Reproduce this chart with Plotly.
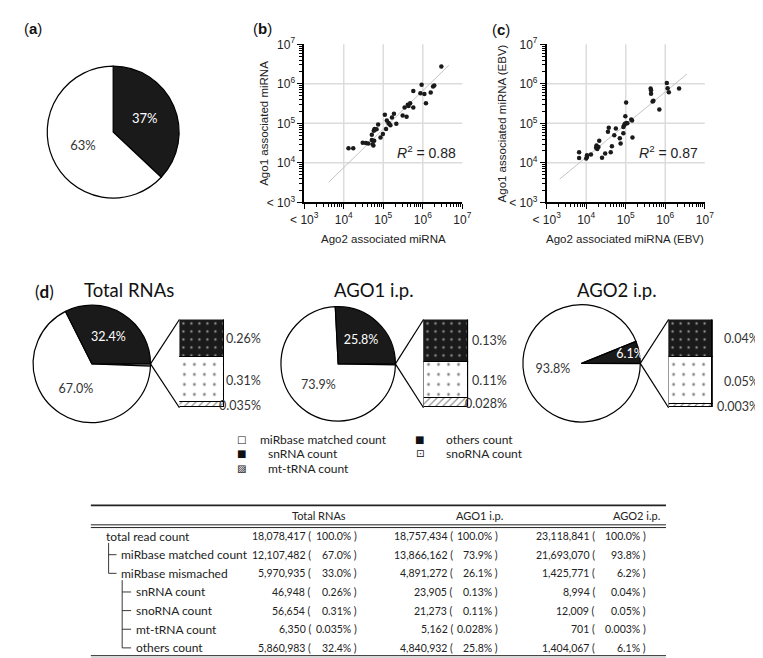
import plotly.graph_objects as go
import numpy as np

W, H = 763, 658


def fx(x):
    return x / W


def fy(y):
    return 1 - y / H


# ------------------------------------------------------------------ data
# (a) pie
pie_a_labels = ["share 1", "share 2"]
pie_a_values = [37, 63]

# (b) log10(read counts): Ago2 (x) vs Ago1 (y)
b_x = [4.12, 4.24, 4.48, 4.56, 4.62, 4.71, 4.71, 4.75, 4.73, 4.77, 4.76, 4.78, 4.78, 4.83,
       4.87, 4.93, 4.99, 5.07, 5.04, 5.09, 5.13, 5.15, 5.18, 5.22, 5.27, 5.33, 5.49, 5.59,
       5.54, 5.62, 5.64, 5.68, 5.76, 5.76, 5.94, 5.97, 6.04, 6.08, 6.20, 6.26, 6.29, 6.47]
b_y = [4.37, 4.37, 4.51, 4.50, 4.49, 4.58, 4.71, 4.44, 4.47, 4.56, 4.81, 4.84, 4.86, 4.85,
       4.97, 4.64, 4.73, 4.86, 5.22, 5.07, 5.01, 4.99, 4.95, 5.15, 5.24, 4.99, 5.20, 5.17,
       5.40, 5.47, 5.44, 5.51, 5.40, 5.82, 5.76, 5.98, 5.74, 5.51, 5.78, 5.93, 5.96, 6.44]
b_fit_x = [3.62, 6.66]
b_fit_y = [3.51, 6.47]
b_r2 = "0.88"

# (c) log10(read counts), EBV miRNA
c_x = [3.82, 3.82, 4.00, 4.02, 4.02, 4.12, 4.25, 4.26, 4.28, 4.31, 4.33, 4.40, 4.48, 4.55,
       4.57, 4.62, 4.65, 4.71, 4.75, 4.85, 4.87, 4.94, 4.94, 4.96, 4.98, 4.99, 5.01, 5.02,
       5.04, 5.14, 5.16, 5.17, 5.63, 5.64, 5.64, 5.68, 5.70, 5.85, 6.04, 6.06, 6.09, 6.35]
c_y = [4.27, 4.12, 4.11, 4.15, 4.19, 4.21, 4.38, 4.44, 4.35, 4.40, 4.56, 4.13, 4.24, 4.79,
       4.89, 4.27, 4.42, 4.70, 4.87, 4.62, 4.49, 4.75, 4.91, 4.95, 4.99, 5.18, 5.53, 5.01,
       5.00, 5.10, 5.07, 4.64, 5.88, 5.84, 5.75, 5.55, 5.57, 5.35, 6.02, 5.89, 5.79, 5.88]
c_fit_x = [3.33, 6.55]
c_fit_y = [3.59, 6.25]
c_r2 = "0.87"

axis_exponents = [3, 4, 5, 6, 7]
axis_ticktext = ["< 10<sup>3</sup>", "10<sup>4</sup>", "10<sup>5</sup>", "10<sup>6</sup>", "10<sup>7</sup>"]

# (d) + table
groups = ["Total RNAs", "AGO1 i.p.", "AGO2 i.p."]
row_labels = ["total read count", "miRbase matched count", "miRbase mismached",
              "snRNA count", "snoRNA count", "mt-tRNA count", "others count"]
row_levels = [0, 1, 1, 2, 2, 2, 2]
counts = [
    [18078417, 12107482, 5970935, 46948, 56654, 6350, 5860983],
    [18757434, 13866162, 4891272, 23905, 21273, 5162, 4840932],
    [23118841, 21693070, 1425771, 8994, 12009, 701, 1404067],
]
pcts = [
    ["100.0%", "67.0%", "33.0%", "0.26%", "0.31%", "0.035%", "32.4%"],
    ["100.0%", "73.9%", "26.1%", "0.13%", "0.11%", "0.028%", "25.8%"],
    ["100.0%", "93.8%", "6.2%", "0.04%", "0.05%", "0.003%", "6.1%"],
]
IDX_MATCHED, IDX_SN, IDX_SNO, IDX_MT, IDX_OTHERS = 1, 3, 4, 5, 6

FONT_A = "Liberation Sans"
FONT_D = "Lato"

fig = go.Figure()
shapes = []
ann = []

# ------------------------------------------------------------------ (a)
fig.add_trace(go.Pie(
    labels=pie_a_labels, values=pie_a_values, sort=False, direction="clockwise", rotation=0,
    marker=dict(colors=["#1a1a1a", "white"], line=dict(color="black", width=1.2)),
    texttemplate="%{percent:.0%}", textposition="inside", insidetextorientation="horizontal",
    textfont=dict(family=FONT_D, size=13, color=["white", "#333"]),
    domain=dict(x=[fx(26), fx(162)], y=[fy(186), fy(50)]), showlegend=False, hoverinfo="skip"))

# ------------------------------------------------------------------ (b), (c)
minor_vals = [float(np.log10(k * 10 ** n)) for n in range(3, 7) for k in range(2, 10)]


def axis_style(domain):
    return dict(domain=domain, range=[3, 7], tickmode="array", tickvals=axis_exponents,
                ticktext=axis_ticktext, ticks="outside", ticklen=5, tickwidth=1.2,
                tickcolor="black", showline=True, linecolor="black", linewidth=1.5,
                showgrid=False, zeroline=False, fixedrange=True,
                tickfont=dict(family=FONT_A, size=12, color="#222"),
                minor=dict(tickmode="array", tickvals=minor_vals, ticks="outside",
                           ticklen=3, tickwidth=1, tickcolor="black", showgrid=False))


panels = [("x", "y", b_x, b_y, b_fit_x, b_fit_y, b_r2),
          ("x2", "y2", c_x, c_y, c_fit_x, c_fit_y, c_r2)]
for xa, ya, xs, ys, fxs, fys, r2 in panels:
    fig.add_trace(go.Scatter(x=fxs, y=fys, mode="lines", xaxis=xa, yaxis=ya,
                             line=dict(color="#c4c4c4", width=1), showlegend=False,
                             hoverinfo="skip"))
    fig.add_trace(go.Scatter(x=xs, y=ys, mode="markers", xaxis=xa, yaxis=ya,
                             marker=dict(color="#1a1a1a", size=4.5), showlegend=False))
    for v in axis_exponents[1:-1]:
        shapes.append(dict(type="line", xref=xa, yref=ya + " domain", x0=v, x1=v, y0=0, y1=1,
                           line=dict(color="#dcdcdc", width=1.5), layer="below"))
        shapes.append(dict(type="line", xref=xa + " domain", yref=ya, x0=0, x1=1, y0=v, y1=v,
                           line=dict(color="#dcdcdc", width=1.5), layer="below"))
    ann.append(dict(text="<i>R</i><sup>2</sup> = " + r2, xref=xa + " domain", yref=ya + " domain",
                    x=0.97, y=0.32, xanchor="right", yanchor="middle", showarrow=False,
                    font=dict(family=FONT_A, size=14, color="#222")))

layout_axes = dict(
    xaxis=axis_style([fx(291), fx(454)]), yaxis=axis_style([fy(190), fy(28)]),
    xaxis2=axis_style([fx(541), fx(704)]), yaxis2=axis_style([fy(190), fy(28)]),
)
layout_axes["yaxis2"]["anchor"] = "x2"
layout_axes["xaxis2"]["anchor"] = "y2"

# axis titles
for txt, x, y, ang in [("Ago1 associated miRNA", 250, 109, -90),
                       ("Ago2 associated miRNA", 373, 228, 0),
                       ("Ago1 associated miRNA (EBV)", 495, 109, -90),
                       ("Ago2 associated miRNA (EBV)", 622, 228, 0)]:
    ann.append(dict(text=txt, xref="paper", yref="paper", x=fx(x), y=fy(y), textangle=ang,
                    showarrow=False, xanchor="center", yanchor="middle",
                    font=dict(family=FONT_A, size=11.5, color="#222")))

# panel letters
for letter, x, y, fam, sz in [("a", 11, 12, FONT_A, 15), ("b", 248, 12, FONT_A, 15),
                              ("c", 494, 13, FONT_A, 15), ("d", 23, 281, FONT_D, 17)]:
    ann.append(dict(text="(<b>%s</b>)" % letter, xref="paper", yref="paper", x=fx(x), y=fy(y),
                    showarrow=False, xanchor="center", yanchor="middle",
                    font=dict(family=fam, size=sz, color="#111")))

# ------------------------------------------------------------------ (d)
pie_geo = [(72, 355.5, 60.5), (326, 355.5, 59), (577, 355, 60.5)]
bar_geo = [(162.3, 208.3), (414, 460), (666.7, 712.3)]
bar_top, bar_bot = 310, 400.5
title_x = [110, 363, 614]
label_right = [248, 502, 762]

for g in range(3):
    others = float(pcts[g][IDX_OTHERS].rstrip("%"))
    matched = float(pcts[g][IDX_MATCHED].rstrip("%"))
    sn = float(pcts[g][IDX_SN].rstrip("%"))
    sno = float(pcts[g][IDX_SNO].rstrip("%"))
    mt = float(pcts[g][IDX_MT].rstrip("%"))
    cx, cy, r = pie_geo[g]
    # clockwise from 3 o'clock: small RNAs, miRbase matched, others
    fig.add_trace(go.Pie(
        labels=["sn/sno/mt-tRNA", "miRbase matched count", "others count"],
        values=[sn + sno + mt, matched, others], sort=False,
        direction="clockwise", rotation=90,
        marker=dict(colors=["white", "white", "#1a1a1a"], line=dict(color="black", width=1.2)),
        text=["", pcts[g][IDX_MATCHED], pcts[g][IDX_OTHERS]], textinfo="text",
        textposition="inside", insidetextorientation="horizontal",
        textfont=dict(family=FONT_D, size=12.5, color=["#333", "#333", "white"]),
        domain=dict(x=[fx(cx - r), fx(cx + r)], y=[fy(cy + r), fy(cy - r)]),
        showlegend=False, hoverinfo="skip"))
    xa = "x%d" % (g + 3)
    ya = "y%d" % (g + 3)
    bx0, bx1 = bar_geo[g]
    layout_axes["xaxis%d" % (g + 3)] = dict(domain=[fx(bx0), fx(bx1)], range=[-0.5, 0.5],
                                            visible=False, anchor=ya, fixedrange=True)
    layout_axes["yaxis%d" % (g + 3)] = dict(domain=[fy(bar_bot), fy(bar_top)],
                                            range=[0, sn + sno + mt], visible=False,
                                            anchor=xa, fixedrange=True)
    segs = [("mt-tRNA count", mt, IDX_MT, dict(shape="/", bgcolor="white", fgcolor="#222",
                                                  size=5, solidity=0.25)),
            ("snoRNA count", sno, IDX_SNO, dict(shape=".", bgcolor="white", fgcolor="#000",
                                                  size=10, solidity=0.06)),
            ("snRNA count", sn, IDX_SN, dict(shape=".", bgcolor="#1a1a1a", fgcolor="white",
                                               size=8, solidity=0.08))]
    base = 0.0
    for name, val, lbl, pat in segs:
        fig.add_trace(go.Bar(x=[0], y=[val], width=[1], xaxis=xa, yaxis=ya, name=name,
                             marker=dict(color=pat["bgcolor"], pattern=pat,
                                         line=dict(color="black", width=1.3)),
                             cliponaxis=False, showlegend=False, hoverinfo="skip"))
        ann.append(dict(text=pcts[g][lbl], xref="paper", yref=ya, x=fx(label_right[g]),
                        y=base + val / 2, xanchor="right", yanchor="middle", showarrow=False,
                        font=dict(family=FONT_D, size=12.5, color="#333")))
        base += val
    # zoom connector lines
    for by in (bar_top, bar_bot):
        shapes.append(dict(type="line", xref="paper", yref="paper", x0=fx(cx + r), y0=fy(cy),
                           x1=fx(bx0), y1=fy(by), line=dict(color="black", width=1.2)))
    ann.append(dict(text=groups[g], xref="paper", yref="paper", x=fx(title_x[g]), y=fy(280),
                    xanchor="center", yanchor="middle", showarrow=False,
                    font=dict(family=FONT_D, size=18.5, color="#111")))

# legend of (d)
legend_items = [("□", "miRbase matched count", 226, 243, 433.5),
                ("■", "others count", 410, 435, 433.5),
                ("■", "snRNA count", 226, 252, 447.5),
                ("⊡", "snoRNA count", 410, 435, 447.5),
                ("▨", "mt-tRNA count", 226, 252, 462.5)]
for glyph, label, gx, tx, y in legend_items:
    ann.append(dict(text=glyph, xref="paper", yref="paper", x=fx(gx), y=fy(y), xanchor="center",
                    yanchor="middle", showarrow=False,
                    font=dict(family="DejaVu Sans", size=10, color="#111")))
    ann.append(dict(text=label, xref="paper", yref="paper", x=fx(tx), y=fy(y), xanchor="left",
                    yanchor="middle", showarrow=False,
                    font=dict(family=FONT_D, size=12, color="#222")))

# ------------------------------------------------------------------ table
T_X0, T_X1 = 71, 664
row_y0, row_dy = 532, 19.1
header_x = [306, 472, 634]
num_right = [300, 446, 593]     # right edge of "number ("
pct_right = [347, 493, 645]     # right edge of "pct )"
label_x = [85, 100, 115]
TF = dict(family=FONT_D, size=12, color="#222")
NF = dict(family=FONT_D, size=10.5, color="#222")


def line(x0, y0, x1, y1, w=1.0, c="#222"):
    shapes.append(dict(type="line", xref="paper", yref="paper", x0=fx(x0), y0=fy(y0),
                       x1=fx(x1), y1=fy(y1), line=dict(color=c, width=w)))


line(T_X0, 500.5, T_X1, 500.5, 1.8)
line(T_X0, 520.5, T_X1, 520.5, 1.0)
line(T_X0, 523.3, T_X1, 523.3, 1.0)
line(T_X0, 654.6, T_X1, 654.6, 1.0)
line(T_X0, 657.3, T_X1, 657.3, 1.0)

for g in range(3):
    ann.append(dict(text=groups[g], xref="paper", yref="paper", x=fx(header_x[g]), y=fy(511),
                    xanchor="center", yanchor="middle", showarrow=False,
                    font=dict(family=FONT_D, size=11, color="#222")))

rows_y = [row_y0 + i * row_dy for i in range(len(row_labels))]
for i, lab in enumerate(row_labels):
    y = rows_y[i]
    ann.append(dict(text=lab, xref="paper", yref="paper", x=fx(label_x[row_levels[i]]), y=fy(y),
                    xanchor="left", yanchor="middle", showarrow=False, font=TF))
    for g in range(3):
        ann.append(dict(text="{:,} (".format(counts[g][i]), xref="paper", yref="paper",
                        x=fx(num_right[g]), y=fy(y), xanchor="right", yanchor="middle",
                        showarrow=False, font=NF))
        ann.append(dict(text=pcts[g][i] + " )", xref="paper", yref="paper",
                        x=fx(pct_right[g]), y=fy(y), xanchor="right", yanchor="middle",
                        showarrow=False, font=NF))

# tree connectors
lvl1 = [i for i, l in enumerate(row_levels) if l == 1]
lvl2 = [i for i, l in enumerate(row_levels) if l == 2]
line(89.3, rows_y[0] + 7, 89.3, rows_y[lvl1[-1]], 0.9)
for i in lvl1:
    line(89.3, rows_y[i], 97.5, rows_y[i], 0.9)
line(103.3, rows_y[lvl1[-1]] + 7, 103.3, rows_y[lvl2[-1]], 0.9)
for i in lvl2:
    line(103.3, rows_y[i], 112.5, rows_y[i], 0.9)

fig.update_layout(
    width=W, height=H, margin=dict(l=0, r=0, t=0, b=0), autosize=False,
    paper_bgcolor="white", plot_bgcolor="white", barmode="stack", bargap=0,
    uniformtext=dict(minsize=12, mode="show"),
    shapes=shapes, annotations=ann, showlegend=False, **layout_axes)

fig.write_html("out.html")
